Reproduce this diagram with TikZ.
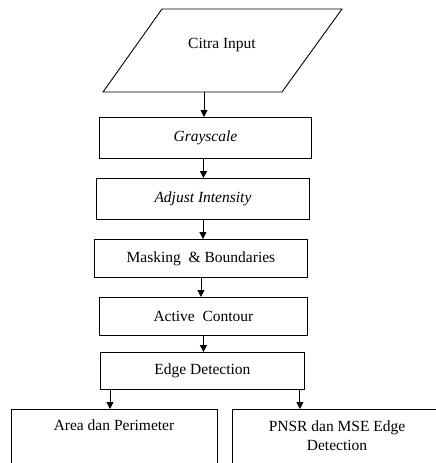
\documentclass[tikz,border=0pt]{standalone}
\usepackage{fontspec}
\setmainfont{Liberation Serif}
\usetikzlibrary{arrows.meta}
\begin{document}
\begin{tikzpicture}[x=1pt,y=-1pt,
  every node/.style={font=\fontsize{15.5}{19}\selectfont},
  box/.style={draw, line width=0.9pt, inner sep=0pt, anchor=north west},
  arr/.style={line width=0.9pt, -{Triangle[length=7pt,width=7pt]}},
  ]
\clip (0,0) rectangle (436,463);
\draw[line width=0.9pt] (103,92) -- (282,92) -- (342,9) -- (162,9) -- cycle;
\node (in) at (222,45) {Citra Input};
\coordinate (inb) at (204,92);

\node[box, minimum width=212pt, minimum height=41pt] (g) at (99,117) {\itshape Grayscale};
\node[box, minimum width=213pt, minimum height=41pt] (a) at (96,178) {\itshape Adjust Intensity};
\node[box, minimum width=213pt, minimum height=38pt] (m) at (94,239) {Masking\ \ \& Boundaries};
\node[box, minimum width=208pt, minimum height=38pt] (c) at (99,297) {Active\ \ Contour};
\node[box, minimum width=204pt, minimum height=37pt] (e) at (100,352) {Edge Detection};

\node[box, minimum width=206pt, minimum height=80pt] (ar) at (11,409) {};
\node (art) at (114,425) {Area dan Perimeter};
\node[box, minimum width=210pt, minimum height=80pt] (ps) at (232,409) {};
\node[align=center] (pst) at (337,436) {PNSR dan MSE Edge\\Detection};

\draw[arr] (inb) -- (inb |- g.north);
\draw[arr] ([xshift=-2pt]g.south) -- ([xshift=-2pt]g.south |- a.north);
\draw[arr] (a.south) -- (a.south |- m.north);
\draw[arr] (m.south) -- (m.south |- c.north);
\draw[arr] (c.south) -- (c.south |- e.north);
\draw[arr] ([xshift=10pt]e.south west) -- ([xshift=10pt]e.south west |- ar.north);
\draw[arr] ([xshift=-5pt]e.south east) -- ([xshift=-5pt]e.south east |- ps.north);
\end{tikzpicture}
\end{document}
